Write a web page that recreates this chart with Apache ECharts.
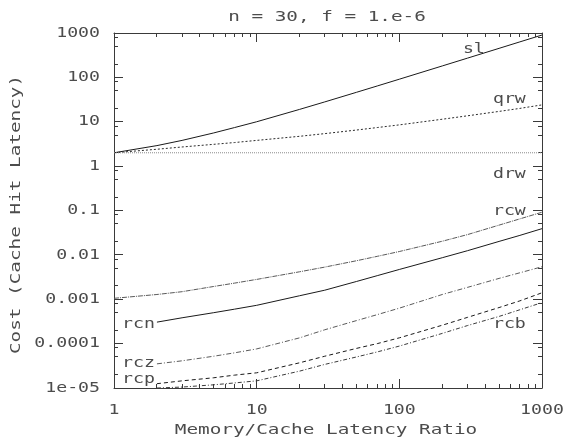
<!DOCTYPE html>
<html>
<head>
<meta charset="utf-8">
<script src="https://cdn.jsdelivr.net/npm/echarts@6/dist/echarts.min.js"></script>
<style>
  html, body { margin: 0; padding: 0; background: #ffffff; }
  #chart { width: 566px; height: 438px; }
</style>
</head>
<body>
<div id="chart"></div>
<script>
// Memory/cache latency ratio sampled along the x axis
const ratios = [1, 2, 3, 5, 7, 10, 20, 30, 50, 70, 100, 200, 300, 500, 700, 1000];
const slCost  = [2, 2.9, 3.8, 5.6, 7.4, 10, 19, 28, 46, 64, 91, 181, 271, 451, 631, 900];
const qrwCost = [2, 2.4, 2.7, 3.1, 3.4, 3.8, 4.7, 5.4, 6.5, 7.4, 8.5, 11.4, 13.6, 17.1, 20, 24];
const drwCost = [2, 2, 2, 2, 2, 2, 2, 2, 2, 2, 2, 2, 2, 2, 2, 2];
const rcwCost = [0.00105, 0.00128, 0.00148, 0.00194, 0.00231, 0.0028, 0.00416, 0.0053,
                 0.00737, 0.00927, 0.0119, 0.0203, 0.0286, 0.0468, 0.0648, 0.0914];

// The rc* curves begin at ratio 2
const rcRatios = [2, 3, 5, 7, 10, 20, 30, 50, 70, 100, 200, 300, 500, 700, 1000];
const rcnCost = [0.000305, 0.000382, 0.000498, 0.000598, 0.00073, 0.0012, 0.0016,
                 0.00251, 0.0034, 0.00469, 0.00863, 0.0124, 0.0201, 0.0275, 0.039];
const rczCost = [3.5e-5, 4.1e-5, 5.2e-5, 6.2e-5, 7.6e-5, 1.35e-4, 2.05e-4, 3.3e-4,
                 4.5e-4, 6.3e-4, 1.28e-3, 1.85e-3, 2.95e-3, 3.95e-3, 5.4e-3];
const rcpCost = [1.25e-5, 1.45e-5, 1.7e-5, 1.95e-5, 2.2e-5, 3.7e-5, 5.2e-5, 7.8e-5,
                 1.0e-4, 1.35e-4, 2.6e-4, 3.9e-4, 6.5e-4, 9.2e-4, 1.4e-3];
const rcbCost = [1.0e-5, 1.05e-5, 1.18e-5, 1.3e-5, 1.45e-5, 2.4e-5, 3.4e-5, 5.0e-5,
                 6.5e-5, 8.8e-5, 1.7e-4, 2.55e-4, 4.1e-4, 5.8e-4, 8.4e-4];

// Axis ticks and their labels
const xTickValues = [1, 10, 100, 1000];
const xTickLabels = ['1', '10', '100', '1000'];
const yTickValues = [1e-5, 1e-4, 1e-3, 1e-2, 1e-1, 1, 10, 100, 1000];
const yTickLabels = ['1e-05', '0.0001', '0.001', '0.01', '0.1', '1', '10', '100', '1000'];
const xMinorSteps = [2, 3, 4, 5, 6, 7, 8, 9];
const yMinorSteps = [2, 5, 8];

const titleText = 'n = 30, f = 1.e-6';
const xName = 'Memory/Cache Latency Ratio';
const yName = 'Cost (Cache Hit Latency)';

// Curve names, each anchored (left end, baseline) at a point in data space
const curveNames = ['sl', 'qrw', 'drw', 'rcw', 'rcn', 'rcz', 'rcp', 'rcb'];
const nameAnchorX = [279, 453, 453, 453, 1.14, 1.14, 1.14, 453];
const nameAnchorY = [354, 26.5, 0.54, 0.0792, 2.25e-4, 2.97e-5, 1.30e-5, 2.25e-4];

function minorValues(majors, steps) {
  const out = [];
  for (let i = 0; i < majors.length - 1; i++) {
    steps.forEach(s => out.push(majors[i] * s));
  }
  return out;
}

function zip(xs, ys) { return xs.map((x, i) => [x, ys[i]]); }

const frameColor = '#3a3a3a';
const textColor = '#4c4c4c';
const FONT = '14px "DejaVu Sans Mono"';
const STRETCH = 1.3;       // tick labels and curve names
const WIDE_STRETCH = 1.38; // title and axis names
const MAJOR = 9, MINOR = 4;

function makeAxis(kind, position) {
  const range = kind === 'x' ? { min: 1, max: 1000 } : { min: 1e-5, max: 1000 };
  return Object.assign({
    type: 'log',
    logBase: 10,
    position: position,
    gridIndex: 0,
    axisLine: { show: true, lineStyle: { color: frameColor, width: 1 } },
    axisTick: { show: false },
    axisLabel: { show: false },
    splitLine: { show: false },
    minorTick: { show: false }
  }, range);
}

function lineSeries(name, data, color, dash) {
  return {
    name: name,
    type: 'line',
    xAxisIndex: 0,
    yAxisIndex: 0,
    data: data,
    showSymbol: false,
    symbol: 'none',
    clip: true,
    lineStyle: { color: color, width: 1, type: dash },
    emphasis: { disabled: true }
  };
}

const chart = echarts.init(document.getElementById('chart'), null, { renderer: 'canvas' });

chart.setOption({
  animation: false,
  backgroundColor: '#ffffff',
  grid: { left: 114, right: 24, top: 33, bottom: 50, containLabel: false, outerBoundsMode: 'none' },
  xAxis: [makeAxis('x', 'bottom'), makeAxis('x', 'top')],
  yAxis: [makeAxis('y', 'left'), makeAxis('y', 'right')],
  series: [
    lineSeries('sl', zip(ratios, slCost), '#1a1a1a', 'solid'),
    lineSeries('qrw', zip(ratios, qrwCost), '#2a2a2a', [2, 2]),
    lineSeries('drw', zip(ratios, drwCost), '#8a8a8a', [1, 1]),
    lineSeries('rcw', zip(ratios, rcwCost), '#5a5a5a', [5, 1, 1, 1]),
    lineSeries('rcn', zip(rcRatios, rcnCost), '#1a1a1a', 'solid'),
    lineSeries('rcz', zip(rcRatios, rczCost), '#5a5a5a', [5, 2, 1, 2]),
    lineSeries('rcp', zip(rcRatios, rcpCost), '#1a1a1a', [4, 3]),
    lineSeries('rcb', zip(rcRatios, rcbCost), '#3a3a3a', [4, 2, 1, 2])
  ]
});

// Ticks and text are laid out from the axes' own scales
function px(x, y) { return chart.convertToPixel({ gridIndex: 0 }, [x, y]); }
function text(str, x, y, align, stretch, rotation) {
  return {
    type: 'text', x: x, y: y, scaleX: stretch, rotation: rotation || 0, silent: true,
    style: { text: str, font: FONT, fill: textColor, align: align, verticalAlign: 'middle' }
  };
}
// one-pixel-wide tick mark drawn as a filled bar
function tickBar(x, y, w, h) {
  return {
    type: 'rect', silent: true,
    shape: { x: x, y: y, width: w, height: h },
    style: { fill: frameColor }
  };
}

const gridLeft = Math.round(px(1, 1)[0]);
const gridRight = Math.round(px(1000, 1)[0]);
const gridTop = Math.round(px(1, 1000)[1]);
const gridBottom = Math.round(px(1, 1e-5)[1]);
const midX = (gridLeft + gridRight) / 2;
const midY = (gridTop + gridBottom) / 2;

const elements = [];

function xTick(v, len) {
  const x = Math.floor(px(v, 1)[0]);
  elements.push(tickBar(x, gridBottom - len, 1, len));
  elements.push(tickBar(x, gridTop, 1, len));
}
function yTick(v, len) {
  const y = Math.floor(px(1, v)[1]);
  elements.push(tickBar(gridLeft, y, len, 1));
  elements.push(tickBar(gridRight - len, y, len, 1));
}
xTickValues.slice(1, -1).forEach(v => xTick(v, MAJOR));
minorValues(xTickValues, xMinorSteps).forEach(v => xTick(v, MINOR));
yTickValues.slice(1, -1).forEach(v => yTick(v, MAJOR));
minorValues(yTickValues, yMinorSteps).forEach(v => yTick(v, MINOR));

yTickValues.forEach((v, i) => {
  elements.push(text(yTickLabels[i], gridLeft - 14, px(1, v)[1], 'right', STRETCH));
});
xTickValues.forEach((v, i) => {
  elements.push(text(xTickLabels[i], px(v, 1e-5)[0], gridBottom + 22, 'center', STRETCH));
});
curveNames.forEach((n, i) => {
  const p = px(nameAnchorX[i], nameAnchorY[i]);
  // lowercase glyphs: centre of the x-height sits ~4px above the baseline
  elements.push(text(n, p[0], p[1] - 4, 'left', STRETCH));
});
elements.push(text(titleText, midX - 1, gridTop - 16, 'center', WIDE_STRETCH));
elements.push(text(xName, midX - 2, gridBottom + 42, 'center', WIDE_STRETCH));
elements.push(text(yName, 16, midY + 4, 'center', WIDE_STRETCH, Math.PI / 2));

chart.setOption({ graphic: { elements: elements } });
</script>
</body>
</html>
